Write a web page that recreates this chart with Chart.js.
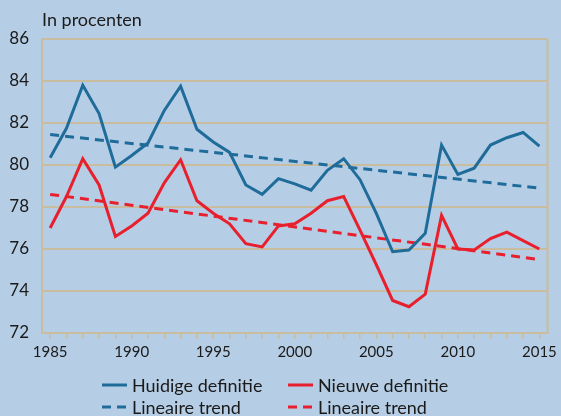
<!DOCTYPE html>
<html><head><meta charset="utf-8">
<script src="https://cdn.jsdelivr.net/npm/chart.js@4"></script>
<style>
html,body{margin:0;padding:0;background:#b6cee5;}
#wrap{position:relative;width:561px;height:416px;background:#b6cee5;overflow:hidden;font-family:Lato,"Open Sans",sans-serif;color:#1a1a1a;}
#c{position:absolute;left:0;top:0;}
#title{position:absolute;left:42px;top:9px;font-size:18px;line-height:20px;}
.lg{position:absolute;font-size:18px;line-height:20px;display:flex;align-items:center;white-space:nowrap;}
.lg svg{margin-right:5px;}
</style></head><body>
<div id="wrap">
<canvas id="c" width="561" height="416"></canvas>
<div id="title">In procenten</div>
<div id="legend"></div>
</div>
<script>
const years = [1985,1986,1987,1988,1989,1990,1991,1992,1993,1994,1995,1996,1997,1998,1999,2000,2001,2002,2003,2004,2005,2006,2007,2008,2009,2010,2011,2012,2013,2014,2015];
const huidige = [80.35,81.75,83.8,82.45,79.9,80.45,81.05,82.6,83.75,81.7,81.1,80.6,79.05,78.6,79.35,79.1,78.8,79.75,80.3,79.3,77.7,75.87,75.95,76.75,80.95,79.55,79.85,80.95,81.3,81.55,80.9];
const nieuwe = [77.0,78.5,80.3,79.05,76.6,77.1,77.7,79.15,80.25,78.3,77.7,77.2,76.25,76.1,77.1,77.2,77.7,78.3,78.5,76.9,75.25,73.55,73.25,73.85,77.6,76.0,75.95,76.5,76.8,76.4,76.0];
const trendYears = [1985, 2015];
const huidigeTrend = [81.45, 78.9];
const nieuweTrend = [78.6, 75.5];
const seriesLabels = ["Huidige definitie","Nieuwe definitie","Lineaire trend","Lineaire trend"];
const yTicks = [72,74,76,78,80,82,84,86];

const BLUE = '#1f6c9b', RED = '#e8202e', GRID = '#c9bc9f';
const pts = (xs, ys) => xs.map((x,i)=>({x:x,y:ys[i]}));

const rightBorder = {
  id:'rightBorder',
  beforeDatasetsDraw(chart){
    const a = chart.chartArea, ctx = chart.ctx;
    ctx.save(); ctx.strokeStyle = GRID; ctx.lineWidth = 2;
    ctx.beginPath(); ctx.moveTo(a.right, a.top); ctx.lineTo(a.right, a.bottom); ctx.stroke();
    ctx.restore();
  }
};

new Chart(document.getElementById('c'), {
  type:'line',
  data:{datasets:[
    {label:seriesLabels[0], data:pts(years,huidige), borderColor:BLUE, borderWidth:3, pointRadius:0, tension:0},
    {label:seriesLabels[1], data:pts(years,nieuwe), borderColor:RED, borderWidth:3, pointRadius:0, tension:0},
    {label:seriesLabels[2], data:pts(trendYears,huidigeTrend), borderColor:BLUE, borderWidth:3, borderDash:[9,6], pointRadius:0},
    {label:seriesLabels[3], data:pts(trendYears,nieuweTrend), borderColor:RED, borderWidth:3, borderDash:[9,6], pointRadius:0}
  ]},
  options:{
    responsive:false, animation:false, devicePixelRatio:1,
    layout:{padding:{left:0,right:12,top:39,bottom:53}},
    plugins:{legend:{display:false}, tooltip:{enabled:false}},
    scales:{
      x:{type:'linear', min:1984.5, max:2015.5,
        afterBuildTicks:(s)=>{s.ticks = years.map(v=>({value:v}));},
        afterFit:(s)=>{s.height = 30;},
        grid:{drawOnChartArea:false, drawTicks:true, tickLength:6, color:GRID, lineWidth:1.5},
        border:{display:true, color:GRID, width:2},
        ticks:{autoSkip:false, maxRotation:0, padding:4, color:'#1a1a1a', font:{family:'Lato', size:15},
          callback:(v)=> (v%5===0 ? String(v) : '')}
      },
      y:{min:72, max:86,
        afterBuildTicks:(s)=>{s.ticks = yTicks.map(v=>({value:v}));},
        afterFit:(s)=>{s.width = 42;},
        grid:{color:GRID, lineWidth:2, drawTicks:false},
        border:{display:true, color:GRID, width:2},
        ticks:{padding:13, color:'#1a1a1a', font:{family:'Lato', size:17}}
      }
    }
  },
  plugins:[rightBorder]
});

const legendItems = [
  {label:seriesLabels[0], color:BLUE, dash:false, left:102, top:375},
  {label:seriesLabels[1], color:RED, dash:false, left:288, top:375},
  {label:seriesLabels[2], color:BLUE, dash:true, left:102, top:397},
  {label:seriesLabels[3], color:RED, dash:true, left:288, top:397}
];
const lg = document.getElementById('legend');
legendItems.forEach(it=>{
  const d = document.createElement('div');
  d.className='lg'; d.style.left = it.left+'px'; d.style.top = it.top+'px';
  d.innerHTML = '<svg width="25" height="6"><line x1="0" y1="3" x2="25" y2="3" stroke="'+it.color+'" stroke-width="3"'+(it.dash?' stroke-dasharray="9,6"':'')+'/></svg><span></span>';
  d.querySelector('span').textContent = it.label;
  lg.appendChild(d);
});
</script>
</body></html>
